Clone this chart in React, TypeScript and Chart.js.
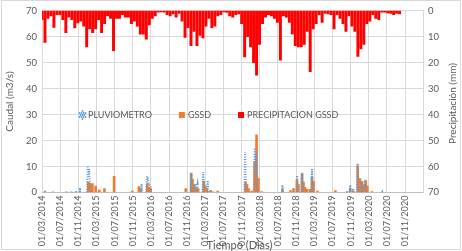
import React, { useEffect, useRef } from "react";
import { Chart, registerables } from "chart.js";

Chart.register(...registerables);

// ---------- data ----------
const X_START = "2014-03-01";
const X_END = "2021-03-01";

const TICK_DATES = [
  "2014-03-01", "2014-07-01", "2014-11-01", "2015-03-01", "2015-07-01", "2015-11-01",
  "2016-03-01", "2016-07-01", "2016-11-01", "2017-03-01", "2017-07-01", "2017-11-01",
  "2018-03-01", "2018-07-01", "2018-11-01", "2019-03-01", "2019-07-01", "2019-11-01",
  "2020-03-01", "2020-07-01", "2020-11-01",
];
const TICK_LABELS = [
  "01/03/2014", "01/07/2014", "01/11/2014", "01/03/2015", "01/07/2015", "01/11/2015",
  "01/03/2016", "01/07/2016", "01/11/2016", "01/03/2017", "01/07/2017", "01/11/2017",
  "01/03/2018", "01/07/2018", "01/11/2018", "01/03/2019", "01/07/2019", "01/11/2019",
  "01/03/2020", "01/07/2020", "01/11/2020",
];

const SERIES_NAMES = ["PLUVIOMETRO", "GSSD", "PRECIPITACION GSSD"];
const X_TITLE = "Tiempo (Dias)";
const Y_TITLE = "Caudal (m3/s)";
const Y1_TITLE = "Precipitación (mm)";

// PLUVIOMETRO (m3/s)
const PLUV_DATES = [
  "2014-03-18", "2014-03-21", "2014-03-24",
  "2014-05-13", "2014-05-16", "2014-05-19",
  "2014-08-10", "2014-08-13", "2014-08-16",
  "2014-09-13", "2014-09-16", "2014-09-19",
  "2014-10-12", "2014-10-15", "2014-10-18",
  "2014-11-08", "2014-11-11", "2014-11-14",
  "2014-12-27", "2015-01-02", "2015-01-07", "2015-01-12", "2015-01-16", "2015-01-21",
  "2015-12-26", "2015-12-29", "2016-01-02",
  "2016-01-29", "2016-02-04", "2016-02-09", "2016-02-16", "2016-02-26", "2016-03-03",
  "2016-11-22", "2016-11-27", "2016-12-02",
  "2016-12-21", "2016-12-25", "2017-01-01", "2017-01-08", "2017-01-13",
  "2017-02-10", "2017-02-15", "2017-02-21",
  "2017-03-12", "2017-03-17", "2017-03-22",
  "2017-04-23", "2017-04-26", "2017-04-29",
  "2017-11-18", "2017-11-23", "2017-11-29",
  "2018-01-20", "2018-01-26", "2018-02-01", "2018-02-06", "2018-02-12",
  "2018-07-28", "2018-08-01", "2018-08-05",
  "2018-11-02", "2018-11-07", "2018-11-12",
  "2018-12-03", "2018-12-08", "2018-12-12", "2018-12-17",
  "2019-02-10", "2019-02-15", "2019-02-20",
  "2019-10-05", "2019-10-08", "2019-10-11",
  "2019-10-26", "2019-10-30", "2019-11-03",
  "2019-11-15", "2019-11-18", "2019-11-21",
  "2019-12-13", "2019-12-18", "2019-12-23",
  "2020-01-10", "2020-01-14", "2020-01-18",
  "2020-02-02", "2020-02-06", "2020-02-10",
  "2020-05-30", "2020-06-02", "2020-06-05",
];
const PLUV_VALUES = [
  0, 0.8, 0,
  0, 0.5, 0,
  0, 0.5, 0,
  0, 0.5, 0,
  0, 0.7, 0,
  0, 1.8, 0,
  0, 10.3, 6.0, 9.0, 3.5, 0,
  0, 3.3, 0,
  0, 6.2, 5.5, 3.0, 2.8, 0,
  0, 7.2, 0,
  0, 3.4, 0.5, 3.0, 0,
  0, 7.8, 0,
  0, 4.6, 0,
  0, 0.5, 0,
  0, 15.6, 0,
  0, 17.1, 8.0, 15.0, 0,
  0, 2.8, 0,
  0, 6.5, 0,
  0, 4.6, 7.6, 0,
  0, 9.0, 0,
  0, 0.7, 0,
  0, 2.8, 0,
  0, 1.5, 0,
  0, 11.3, 0,
  0, 4.6, 0,
  0, 4.9, 0,
  0, 0.3, 0,
];

// GSSD (m3/s)
const GSSD_DATES = [
  "2015-01-06", "2015-01-15", "2015-02-02", "2015-02-24", "2015-03-21", "2015-04-24",
  "2015-06-28", "2015-10-28", "2015-12-11", "2015-12-21", "2016-02-06", "2016-02-16",
  "2016-02-28", "2016-10-21", "2016-11-26", "2016-12-05", "2016-12-13", "2016-12-26",
  "2017-01-12", "2017-02-18", "2017-02-28", "2017-03-10", "2017-04-06", "2017-05-23",
  "2017-11-26", "2017-12-06", "2017-12-16", "2018-01-06", "2018-01-26", "2018-02-08",
  "2018-02-20", "2018-03-14", "2018-08-01", "2018-09-24", "2018-10-14", "2018-11-06",
  "2018-11-16", "2018-12-10", "2018-12-20", "2018-12-30", "2019-01-12", "2019-02-01",
  "2019-02-15", "2019-02-25", "2019-03-24", "2019-07-22", "2019-10-29", "2019-11-20",
  "2019-12-19", "2020-01-02", "2020-01-18", "2020-01-29", "2020-02-11", "2020-02-21",
  "2020-03-23",
];
const GSSD_VALUES = [
  4.0, 3.5, 3.4, 2.4, 0.9, 1.5,
  6.2, 0.5, 2.2, 1.5, 3.4, 2.0,
  1.5, 1.5, 7.4, 5.0, 3.0, 2.0,
  1.5, 4.3, 2.6, 1.5, 0.8, 0.5,
  4.0, 3.0, 1.5, 0.5, 12.0, 22.2,
  5.4, 0.3, 1.0, 0.7, 1.5, 4.9,
  3.0, 7.2, 4.0, 2.0, 1.2, 1.2,
  5.9, 4.3, 0.5, 0.7, 1.5, 0.5,
  10.3, 5.3, 4.0, 3.0, 4.6, 2.5,
  0.3,
];

// PRECIPITACION GSSD (mm)
const PRECIP_DATES = [
  "2014-03-01", "2014-03-21", "2014-04-10", "2014-04-30", "2014-05-20", "2014-06-09",
  "2014-06-29", "2014-07-19", "2014-08-08", "2014-08-28", "2014-09-17", "2014-10-07",
  "2014-10-27", "2014-11-16", "2014-12-06", "2014-12-26", "2015-01-15", "2015-02-04",
  "2015-02-24", "2015-03-16", "2015-04-05", "2015-04-25", "2015-05-15", "2015-06-04",
  "2015-06-24", "2015-07-14", "2015-08-03", "2015-08-23", "2015-09-12", "2015-10-02",
  "2015-10-22", "2015-11-11", "2015-12-01", "2015-12-21", "2016-01-10", "2016-01-30",
  "2016-02-19", "2016-03-10", "2016-03-30", "2016-04-19", "2016-05-09", "2016-05-29",
  "2016-06-18", "2016-07-08", "2016-07-28", "2016-08-17", "2016-09-06", "2016-09-26",
  "2016-10-16", "2016-11-05", "2016-11-25", "2016-12-15", "2017-01-04", "2017-01-24",
  "2017-02-13", "2017-03-05", "2017-03-25", "2017-04-14", "2017-05-04", "2017-05-24",
  "2017-06-13", "2017-07-03", "2017-07-23", "2017-08-12", "2017-09-01", "2017-09-21",
  "2017-10-11", "2017-10-31", "2017-11-20", "2017-12-10", "2017-12-30", "2018-01-19",
  "2018-02-08", "2018-02-28", "2018-03-20", "2018-04-09", "2018-04-29", "2018-05-19",
  "2018-06-08", "2018-06-28", "2018-07-18", "2018-08-07", "2018-08-27", "2018-09-16",
  "2018-10-06", "2018-10-26", "2018-11-15", "2018-12-05", "2018-12-25", "2019-01-14",
  "2019-02-03", "2019-02-23", "2019-03-15", "2019-04-04", "2019-04-24", "2019-05-14",
  "2019-06-03", "2019-06-23", "2019-07-13", "2019-08-02", "2019-08-22", "2019-09-11",
  "2019-10-01", "2019-10-21", "2019-11-10", "2019-11-30", "2019-12-20", "2020-01-09",
  "2020-01-29", "2020-02-18", "2020-03-09", "2020-03-29", "2020-04-18", "2020-05-08",
  "2020-05-28", "2020-06-17", "2020-07-07", "2020-07-27", "2020-08-16", "2020-09-05",
  "2020-09-25",
];
const PRECIP_MM = [
  3.5, 12.2, 3.0, 2.0, 6.4, 1.5,
  1.5, 3.5, 8.5, 2.5, 3.5, 6.6,
  4.7, 4.0, 6.0, 14.0, 7.0, 8.5,
  7.0, 3.5, 8.5, 5.0, 2.0, 3.0,
  15.4, 3.0, 3.0, 1.5, 2.5, 2.5,
  5.0, 4.0, 6.0, 9.0, 9.0, 11.0,
  5.5, 3.0, 2.0, 0.6, 0.5, 0.6,
  1.5, 2.0, 1.2, 2.5, 1.0, 4.0,
  10.3, 6.5, 13.5, 8.0, 13.5, 9.5,
  10.5, 6.0, 3.0, 6.5, 6.0, 2.0,
  1.5, 0.5, 0.7, 2.0, 2.5, 1.5,
  1.2, 5.0, 17.8, 10.0, 14.0, 20.0,
  24.8, 13.0, 5.0, 2.5, 1.5, 2.0,
  3.0, 4.5, 19.1, 2.0, 2.5, 4.5,
  9.0, 13.5, 14.0, 14.0, 13.0, 8.0,
  23.5, 7.0, 5.0, 1.5, 4.5, 1.0,
  1.2, 1.5, 7.0, 1.5, 3.0, 5.0,
  8.0, 2.0, 6.0, 8.0, 17.6, 14.7,
  13.0, 5.0, 4.0, 1.5, 3.0, 3.5,
  0.6, 0.6, 0.9, 1.0, 1.5, 1.0,
  1.2,
];

// ---------- helpers ----------
const dayOf = (s: string): number => {
  const [y, m, d] = s.split("-").map(Number);
  const [y0, m0, d0] = X_START.split("-").map(Number);
  return (Date.UTC(y, m - 1, d) - Date.UTC(y0, m0 - 1, d0)) / 86400000;
};

const BLUE = "#5B9BD5";
const ORANGE = "#ED7D31";
const RED = "#FF0000";
const TEXT = "#595959";
const GRID = "#D9D9D9";
const FONT = "Lato, 'Open Sans', sans-serif";

const decorPlugin = {
  id: "decor",
  afterDraw(chart: any) {
    const ctx = chart.ctx as CanvasRenderingContext2D;
    const a = chart.chartArea;
    ctx.save();
    // chart-area border
    ctx.strokeStyle = GRID;
    ctx.lineWidth = 1;
    ctx.strokeRect(1.5, 0.5, chart.width - 3, chart.height - 2);

    // axis titles
    ctx.fillStyle = TEXT;
    ctx.font = `10px ${FONT}`;
    ctx.textAlign = "center";
    ctx.textBaseline = "middle";
    const cy = (a.top + a.bottom) / 2;
    ctx.save();
    ctx.translate(10, cy);
    ctx.rotate(-Math.PI / 2);
    ctx.fillText(Y_TITLE, 0, 0);
    ctx.restore();
    ctx.save();
    ctx.translate(a.right + 30, cy + 2);
    ctx.rotate(-Math.PI / 2);
    ctx.fillText(Y1_TITLE, 0, 0);
    ctx.restore();
    ctx.font = `11px ${FONT}`;
    ctx.fillText(X_TITLE, (a.left + a.right) / 2 + 7, 245);

    // legend inside plot
    ctx.font = `9px ${FONT}`;
    ctx.textAlign = "left";
    let x = a.left + 37;
    const ly = 115;
    const colors = [BLUE, ORANGE, RED];
    SERIES_NAMES.forEach((name, i) => {
      if (i === 0) {
        ctx.fillStyle = BLUE;
        const pts = [[0, 0], [2, 0], [4, 0], [6, 0], [1, 2], [3, 2], [5, 2], [0, 4], [2, 4], [4, 4], [6, 4], [3, -2], [3, 6]];
        pts.forEach(([dx, dy]) => {
          ctx.beginPath();
          ctx.arc(x + dx + 0.5, ly - 2 + dy, 0.9, 0, Math.PI * 2);
          ctx.fill();
        });
      } else {
        ctx.fillStyle = colors[i];
        ctx.fillRect(x, ly - 3, 6, 6);
      }
      x += 9;
      ctx.fillStyle = TEXT;
      ctx.fillText(name, x, ly + 0.5);
      x += ctx.measureText(name).width + 27;
    });
    ctx.restore();
  },
};

export default function App() {
  const ref = useRef<HTMLCanvasElement | null>(null);

  useEffect(() => {
    if (!ref.current) return;
    const tickDays = TICK_DATES.map(dayOf);
    const pluv = PLUV_DATES.map((d, i) => ({ x: dayOf(d), y: PLUV_VALUES[i] }));
    const gssd = GSSD_DATES.map((d, i) => ({ x: dayOf(d), y: GSSD_VALUES[i] }));
    const precip = PRECIP_DATES.map((d, i) => ({ x: dayOf(d), y: PRECIP_MM[i] }));

    const chart = new Chart(ref.current, {
      type: "bar",
      data: {
        datasets: [
          {
            type: "line",
            label: SERIES_NAMES[0],
            data: pluv,
            xAxisID: "x",
            yAxisID: "y",
            borderColor: BLUE,
            borderWidth: 2,
            borderDash: [1, 1.5],
            pointRadius: 0,
            tension: 0,
            segment: {
              borderColor: (c: any) =>
                c.p0.parsed.y === 0 && c.p1.parsed.y === 0 ? "rgba(0,0,0,0)" : undefined,
            },
          } as any,
          {
            type: "bar",
            label: SERIES_NAMES[1],
            data: gssd,
            xAxisID: "x",
            yAxisID: "y",
            backgroundColor: ORANGE,
            barThickness: 2,
            grouped: false,
          } as any,
          {
            type: "bar",
            label: SERIES_NAMES[2],
            data: precip,
            xAxisID: "x",
            yAxisID: "y1",
            backgroundColor: RED,
            barThickness: 2.3,
            grouped: false,
          } as any,
        ],
      },
      options: {
        responsive: false,
        animation: false,
        events: [],
        layout: { padding: { top: 5.7, left: 0, right: 0, bottom: 0 } },
        plugins: {
          legend: { display: false },
          tooltip: { enabled: false },
          title: { display: false },
        },
        scales: {
          x: {
            type: "linear",
            min: 0,
            max: dayOf(X_END),
            offset: false,
            afterBuildTicks: (s: any) => {
              s.ticks = tickDays.map((v) => ({ value: v }));
            },
            afterFit: (s: any) => {
              s.height = 58.6;
            },
            grid: { color: GRID, drawTicks: false, offset: false },
            border: { color: "#BFBFBF" },
            ticks: {
              autoSkip: false,
              maxRotation: 90,
              minRotation: 90,
              padding: 3,
              color: TEXT,
              font: { family: FONT, size: 9.2 },
              callback: (_v: any, i: number) => TICK_LABELS[i],
            },
          },
          y: {
            position: "left",
            min: 0,
            max: 70,
            afterFit: (s: any) => {
              s.width = 42;
            },
            grid: { color: GRID, drawTicks: false },
            border: { display: false },
            ticks: {
              stepSize: 10,
              padding: 5,
              color: TEXT,
              font: { family: FONT, size: 9.5 },
            },
          },
          y1: {
            position: "right",
            min: 0,
            max: 70,
            reverse: true,
            afterFit: (s: any) => {
              s.width = 39;
            },
            grid: { display: false, drawTicks: false },
            border: { display: true, color: GRID },
            ticks: {
              stepSize: 10,
              padding: 5,
              color: TEXT,
              font: { family: FONT, size: 9.5 },
            },
          },
        },
      } as any,
      plugins: [decorPlugin],
    });
    return () => chart.destroy();
  }, []);

  return (
    <div style={{ position: "fixed", left: 0, top: 0, width: 462, height: 251, background: "#fff" }}>
      <canvas ref={ref} width={462} height={251} style={{ display: "block" }} />
    </div>
  );
}
